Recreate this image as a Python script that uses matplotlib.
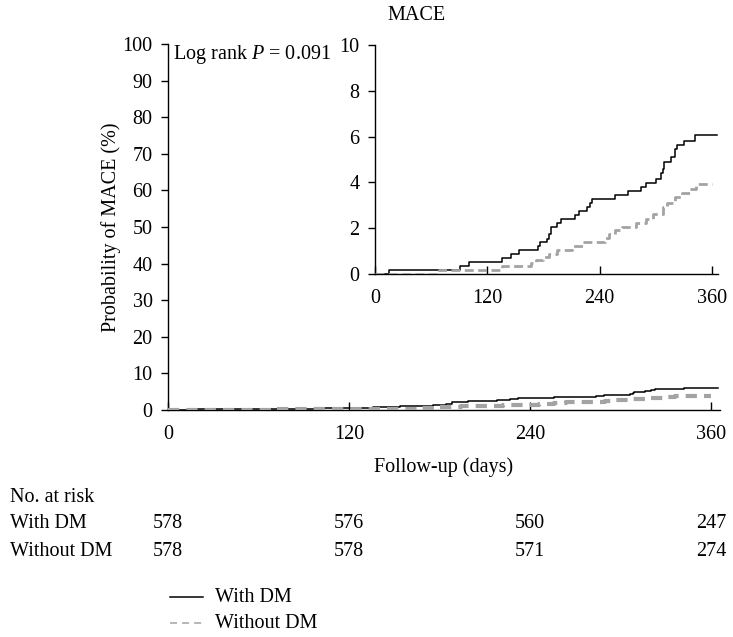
import matplotlib
matplotlib.use("Agg")
import matplotlib.pyplot as plt
import matplotlib.transforms as mtransforms

plt.rcParams['font.family'] = ['Liberation Serif', 'DejaVu Serif']
plt.rcParams['mathtext.fontset'] = 'custom'
plt.rcParams['mathtext.it'] = 'Liberation Serif:italic'
plt.rcParams['mathtext.rm'] = 'Liberation Serif'

# Data (cumulative probability of MACE, %)
with_dm_days = [0, 15, 91, 100, 136, 145, 154, 174, 176, 184, 186, 188, 194, 199,
                214, 218, 227, 230, 232, 256, 270, 284, 289, 300, 306, 308, 309,
                316, 320, 323, 330, 342, 365]
with_dm_prob = [0, 0.17, 0.34, 0.51, 0.70, 0.88, 1.04, 1.21, 1.39, 1.53, 1.74, 2.06, 2.23, 2.41,
                2.58, 2.76, 2.93, 3.11, 3.28, 3.46, 3.64, 3.81, 3.99, 4.16, 4.39, 4.57, 4.88,
                5.09, 5.46, 5.64, 5.82, 6.07, 6.07]
without_dm_days = [0, 68, 136, 167, 172, 180, 186, 194, 210, 222, 246, 250, 256, 264,
                   279, 290, 297, 308, 312, 320, 328, 336, 343, 360]
without_dm_prob = [0, 0.17, 0.34, 0.45, 0.60, 0.75, 0.87, 1.04, 1.20, 1.39, 1.55, 1.75, 1.90, 2.06,
                   2.23, 2.40, 2.60, 2.90, 3.10, 3.35, 3.55, 3.70, 3.93, 3.93]

risk_times = [0, 120, 240, 360]
risk_with_dm = [578, 576, 560, 247]
risk_without_dm = [578, 578, 571, 274]
x_ticks = [0, 120, 240, 360]
main_yticks = list(range(0, 101, 10))
inset_yticks = [0, 2, 4, 6, 8, 10]

W, H = 733, 637
fig = plt.figure(figsize=(W / 100, H / 100), dpi=100)

def px_axes(left, top, right, bottom):
    return fig.add_axes([left / W, 1 - bottom / H, (right - left) / W, (bottom - top) / H])

def fy(y):
    return 1 - y / H

FS = 14.5
gray = '#a3a3a3'

def style(ax):
    for s in ['top', 'right']:
        ax.spines[s].set_visible(False)
    for s in ['left', 'bottom']:
        ax.spines[s].set_linewidth(1.0)
    ax.tick_params(axis='y', direction='out', length=5, width=1.0, labelsize=FS, pad=6)
    ax.tick_params(axis='x', direction='in', length=6, width=1.0, labelsize=FS, pad=11)

# Main axes
ax = px_axes(168, 44, 720, 410)
ax.step(with_dm_days, with_dm_prob, where='post', color='black', lw=1.1, zorder=3)
ax.step(without_dm_days, without_dm_prob, where='post', color=gray, lw=3,
        dashes=(2.7, 1.7), zorder=4)
ax.set_xlim(0, 366)
ax.set_ylim(0, 100)
ax.set_xticks(x_ticks)
ax.set_yticks(main_yticks)
style(ax)
ax.set_xlabel('Follow-up (days)', fontsize=FS, labelpad=9)
ax.set_ylabel('Probability of MACE (%)', fontsize=FS, labelpad=1.5)

fig.text(173 / W, fy(55), r'Log rank $P$ = 0.091', fontsize=FS, va='center', ha='left')
fig.text(416 / W, fy(15), 'MACE', fontsize=FS, ha='center', va='center')

# Inset
ins = px_axes(375, 45.3, 717.6, 273.7)
ins.step(with_dm_days, with_dm_prob, where='post', color='black', lw=1.1, zorder=3)
ins.step(without_dm_days, without_dm_prob, where='post', color=gray, lw=2,
         dashes=(3.2, 1.6), zorder=4)
ins.set_xlim(0, 366)
ins.set_ylim(0, 10)
ins.set_xticks(x_ticks)
ins.set_yticks(inset_yticks)
style(ins)
ins.patch.set_alpha(0)

# Risk table
trans = mtransforms.blended_transform_factory(ax.transData, fig.transFigure)
fig.text(10 / W, fy(497), 'No. at risk', fontsize=FS, ha='left', va='center')
fig.text(10 / W, fy(524), 'With DM', fontsize=FS, ha='left', va='center')
fig.text(10 / W, fy(551), 'Without DM', fontsize=FS, ha='left', va='center')
for t, a, b in zip(risk_times, risk_with_dm, risk_without_dm):
    ax.text(t, fy(524), str(a), transform=trans, fontsize=FS, ha='center', va='center', clip_on=False)
    ax.text(t, fy(551), str(b), transform=trans, fontsize=FS, ha='center', va='center', clip_on=False)

# Legend
fig.add_artist(plt.Line2D([170 / W, 203 / W], [fy(597), fy(597)], color='black', lw=1.1))
fig.add_artist(plt.Line2D([170 / W, 203 / W], [fy(623), fy(623)], color=gray, lw=1.1,
                          dashes=(4.6, 3.3)))
fig.text(215 / W, fy(597), 'With DM', fontsize=FS, ha='left', va='center')
fig.text(215 / W, fy(623), 'Without DM', fontsize=FS, ha='left', va='center')

fig.savefig('out.png', dpi=100)
